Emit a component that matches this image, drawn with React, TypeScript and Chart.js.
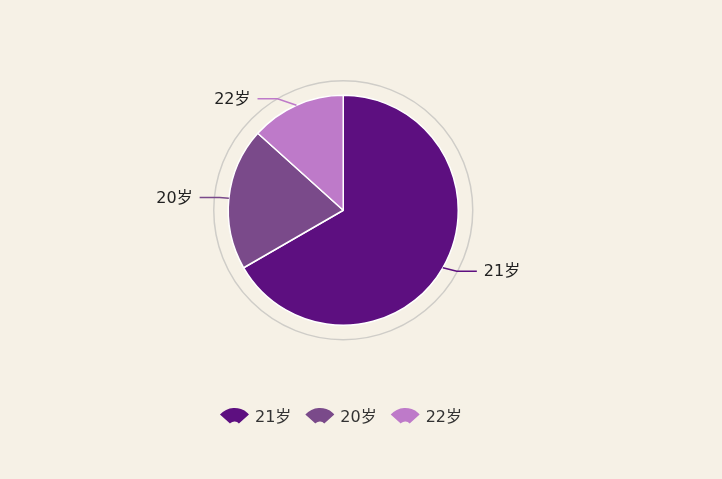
import React, { useEffect, useRef } from "react";
import { Chart, registerables } from "chart.js";

Chart.register(...registerables);

const categories: string[] = ["21岁", "20岁", "22岁"];
const counts: number[] = [10, 3, 2];
const colors: string[] = ["#5d0f80", "#7a4a8a", "#be7ac9"];

const BG = "#f6f1e6";
const FONT = "16px 'DejaVu Sans', 'Noto Sans CJK SC', sans-serif";

const deg = Math.PI / 180;

function drawFan(ctx: CanvasRenderingContext2D, cx: number, cy: number, color: string) {
  ctx.beginPath();
  ctx.arc(cx, cy, 19.5, -138 * deg, -42 * deg);
  ctx.arc(cx, cy, 6, -42 * deg, -138 * deg, true);
  ctx.closePath();
  ctx.fillStyle = color;
  ctx.fill();
}

const decorPlugin = {
  id: "decor",
  beforeDatasetsDraw(chart: any) {
    const ctx: CanvasRenderingContext2D = chart.ctx;
    const meta = chart.getDatasetMeta(0);
    const arc = meta.data[0];
    if (!arc) return;
    const { x, y, outerRadius } = arc.getProps(["x", "y", "outerRadius"], true);
    ctx.save();
    ctx.beginPath();
    ctx.arc(x, y, outerRadius + 14.5, 0, Math.PI * 2);
    ctx.strokeStyle = "#cfcdc8";
    ctx.lineWidth = 1.5;
    ctx.stroke();
    ctx.restore();
  },
  afterDatasetsDraw(chart: any) {
    const ctx: CanvasRenderingContext2D = chart.ctx;
    const meta = chart.getDatasetMeta(0);
    ctx.save();
    ctx.font = FONT;
    ctx.textBaseline = "middle";
    meta.data.forEach((el: any, i: number) => {
      const p = el.getProps(["x", "y", "startAngle", "endAngle", "outerRadius"], true);
      const mid = (p.startAngle + p.endAngle) / 2;
      const c = Math.cos(mid);
      const s = Math.sin(mid);
      const sign = c >= 0 ? 1 : -1;
      const r = p.outerRadius;
      const x0 = p.x + r * c;
      const y0 = p.y + r * s;
      const x1 = x0 + sign * (8 + 12 * Math.abs(s));
      const y1 = p.y + (r + 7) * s;
      const x2 = x1 + sign * 20;
      ctx.beginPath();
      ctx.moveTo(x0, y0);
      ctx.lineTo(x1, y1);
      ctx.lineTo(x2, y1);
      ctx.strokeStyle = colors[i];
      ctx.lineWidth = 1.5;
      ctx.stroke();
      ctx.fillStyle = "#222222";
      ctx.textAlign = sign > 0 ? "left" : "right";
      ctx.fillText(categories[i], x2 + sign * 7, y1 + 1);
    });

    // legend
    const iconW = 29;
    const gapIconText = 6;
    const itemGap = 14;
    const widths = categories.map((t) => ctx.measureText(t).width);
    const total =
      widths.reduce((a, w) => a + iconW + gapIconText + w, 0) + itemGap * (categories.length - 1);
    let lx = 341 - total / 2;
    const ly = 416.5;
    ctx.textAlign = "left";
    categories.forEach((t, i) => {
      drawFan(ctx, lx + iconW / 2, ly + 11, colors[i]);
      ctx.fillStyle = "#333333";
      ctx.fillText(t, lx + iconW + gapIconText, ly + 1);
      lx += iconW + gapIconText + widths[i] + itemGap;
    });
    ctx.restore();
  },
};

export default function App() {
  const ref = useRef<HTMLCanvasElement | null>(null);
  useEffect(() => {
    document.body.style.margin = "0";
    const canvas = ref.current;
    if (!canvas) return;
    const chart = new Chart(canvas, {
      type: "pie",
      data: {
        labels: categories,
        datasets: [
          {
            data: counts,
            backgroundColor: colors,
            borderColor: "#ffffff",
            borderWidth: 1.5,
          },
        ],
      },
      options: {
        responsive: false,
        animation: false,
        layout: { padding: { top: 94.5, bottom: 153, left: 227.5, right: 263 } },
        plugins: {
          legend: { display: false },
          tooltip: { enabled: false },
        },
      },
      plugins: [decorPlugin],
    });
    return () => chart.destroy();
  }, []);
  return (
    <div style={{ position: "fixed", left: 0, top: 0, width: 722, height: 479, background: BG }}>
      <canvas ref={ref} width={722} height={479} style={{ display: "block" }} />
    </div>
  );
}
